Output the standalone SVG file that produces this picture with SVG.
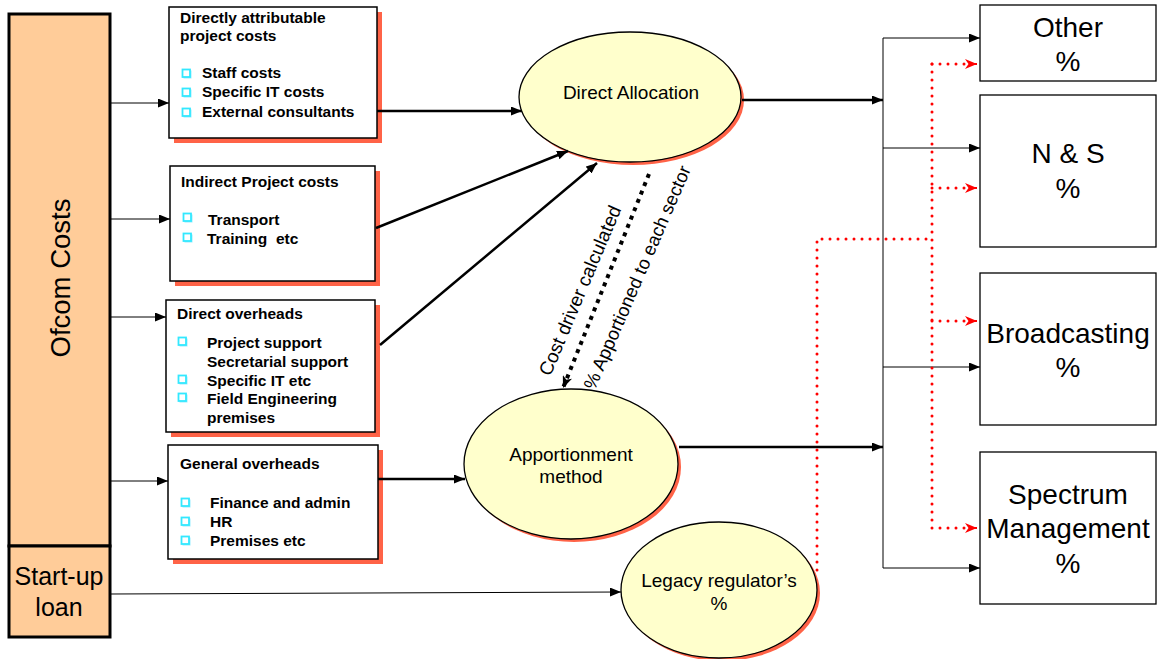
<svg xmlns="http://www.w3.org/2000/svg" xmlns:xlink="http://www.w3.org/1999/xlink" width="1157" height="659" viewBox="0 0 1157 659">
<style>
.ofc{fill:#FFCC99;stroke:#000;stroke-width:3}
.box{fill:#fff;stroke:#000;stroke-width:1.5}
.shd{fill:#FF6347}
.ell{fill:#FFFFCC;stroke:#000;stroke-width:1.3}
.rbox{fill:#fff;stroke:#000;stroke-width:1.3}
.t{font-family:"Liberation Sans",Arial,sans-serif;fill:#000}
.b{font-weight:bold;font-size:15.5px}
.e{font-size:19px;text-anchor:middle}
.big{font-size:28px;text-anchor:middle}
.thin{fill:none;stroke:#000;stroke-width:1}
.thick{fill:none;stroke:#000;stroke-width:2.5}
.red{fill:none;stroke:#FF0000;stroke-width:3;stroke-linecap:round;stroke-dasharray:0 8}
</style>
<defs>
<marker id="ah" markerUnits="userSpaceOnUse" markerWidth="11" markerHeight="9" refX="11" refY="4.5" orient="auto"><path d="M0,0 L11,4.5 L0,9 z" fill="#000"/></marker>
<marker id="ahs" markerUnits="userSpaceOnUse" markerWidth="12" markerHeight="10" refX="12" refY="5" orient="auto"><path d="M0,0 L12,5 L0,10 L3,5 z" fill="#000"/></marker>
<marker id="rh" markerUnits="userSpaceOnUse" markerWidth="12" markerHeight="10" refX="12" refY="5" orient="auto"><path d="M0,0 L12,5 L0,10 L3.5,5 z" fill="#FF0000"/></marker>
<g id="bul"><rect x="1.5" y="1.5" width="8" height="8" fill="#99EEFF"/><rect x="0.5" y="0.5" width="7.5" height="7.5" fill="#fff" stroke="#33E8FF" stroke-width="1.8"/></g>
</defs>

<g id="ofcom-costs">
<rect class="ofc" x="9" y="14" width="101" height="532"/>
<text class="t" font-size="27.5" text-anchor="middle" transform="translate(70,278) rotate(-90)">Ofcom Costs</text>
</g>
<g id="startup-loan">
<rect class="ofc" x="9" y="546" width="101" height="91"/>
<text class="t" font-size="25" text-anchor="middle" x="59" y="585">Start-up</text>
<text class="t" font-size="25" text-anchor="middle" x="59" y="616">loan</text>
</g>

<g id="box-direct">
<rect class="shd" x="174" y="12" width="208" height="131"/>
<rect class="box" x="169" y="7" width="208" height="131"/>
<text class="t b" x="180" y="23">Directly attributable</text>
<text class="t b" x="180" y="41">project costs</text>
<use xlink:href="#bul" x="182" y="69"/><use xlink:href="#bul" x="182" y="88"/><use xlink:href="#bul" x="182" y="108"/>
<text class="t b" x="202" y="78">Staff costs</text>
<text class="t b" x="202" y="97">Specific IT costs</text>
<text class="t b" x="202" y="117">External consultants</text>
</g>

<g id="box-indirect">
<rect class="shd" x="175" y="171" width="205" height="115"/>
<rect class="box" x="170" y="166" width="205" height="115"/>
<text class="t b" x="181" y="187">Indirect Project costs</text>
<use xlink:href="#bul" x="183" y="213"/><use xlink:href="#bul" x="183" y="233"/>
<text class="t b" x="208" y="225">Transport</text>
<text class="t b" x="207" y="244" style="white-space:pre">Training  etc</text>
</g>

<g id="box-overheads">
<rect class="shd" x="171" y="305" width="209" height="132"/>
<rect class="box" x="166" y="300" width="209" height="132"/>
<text class="t b" x="177" y="319">Direct overheads</text>
<use xlink:href="#bul" x="178" y="337"/><use xlink:href="#bul" x="178" y="375"/><use xlink:href="#bul" x="178" y="393"/>
<text class="t b" x="207" y="348">Project support</text>
<text class="t b" x="207" y="367">Secretarial support</text>
<text class="t b" x="207" y="386">Specific IT etc</text>
<text class="t b" x="207" y="404">Field Engineering</text>
<text class="t b" x="207" y="423">premises</text>
</g>

<g id="box-general">
<rect class="shd" x="173" y="450" width="210" height="114"/>
<rect class="box" x="168" y="445" width="210" height="114"/>
<text class="t b" x="180" y="469">General overheads</text>
<use xlink:href="#bul" x="181" y="498"/><use xlink:href="#bul" x="181" y="517"/><use xlink:href="#bul" x="181" y="536"/>
<text class="t b" x="210" y="508">Finance and admin</text>
<text class="t b" x="210" y="527">HR</text>
<text class="t b" x="210" y="546">Premises etc</text>
</g>

<g id="direct-allocation">
<ellipse class="shd" cx="633" cy="100" rx="111" ry="65"/>
<ellipse class="ell" cx="630" cy="97" rx="111" ry="65"/>
<text class="t e" x="631" y="99">Direct Allocation</text>
</g>

<g id="apportionment">
<ellipse class="shd" cx="574" cy="467" rx="107" ry="75"/>
<ellipse class="ell" cx="571" cy="464" rx="107" ry="75"/>
<text class="t e" x="571" y="461">Apportionment</text>
<text class="t e" x="571" y="483">method</text>
</g>

<g id="legacy">
<ellipse class="shd" cx="722" cy="593" rx="98" ry="68"/>
<ellipse class="ell" cx="719" cy="590" rx="98" ry="68"/>
<text class="t e" x="719" y="587">Legacy regulator’s</text>
<text class="t e" x="719" y="610">%</text>
</g>

<g id="other"><rect class="rbox" x="980" y="5" width="176" height="76"/>
<text class="t big" x="1068" y="37">Other</text><text class="t big" x="1068" y="71">%</text></g>
<g id="ns"><rect class="rbox" x="980" y="95" width="176" height="152"/>
<text class="t big" x="1068" y="163">N &amp; S</text><text class="t big" x="1068" y="198">%</text></g>
<g id="broadcasting"><rect class="rbox" x="980" y="273" width="176" height="152"/>
<text class="t big" x="1068" y="343">Broadcasting</text><text class="t big" x="1068" y="377">%</text></g>
<g id="spectrum"><rect class="rbox" x="980" y="452" width="176" height="152"/>
<text class="t big" x="1068" y="504">Spectrum</text><text class="t big" x="1068" y="538">Management</text><text class="t big" x="1068" y="573">%</text></g>

<g id="connectors">
<path class="thin" d="M110,103 H169" marker-end="url(#ah)"/>
<path class="thin" d="M110,219 H170" marker-end="url(#ah)"/>
<path class="thin" d="M110,317 H166" marker-end="url(#ah)"/>
<path class="thin" d="M110,481 H168" marker-end="url(#ah)"/>
<path class="thin" d="M110,594 L621,592" marker-end="url(#ah)"/>
<path class="thick" d="M377,111 H522" marker-end="url(#ah)"/>
<path class="thick" d="M376,228 L568,151" marker-end="url(#ah)"/>
<path class="thick" d="M380,345 L597,163" marker-end="url(#ah)"/>
<path class="thick" d="M378,479 H465" marker-end="url(#ah)"/>
<path d="M649,174 L563,388" fill="none" stroke="#000" stroke-width="4" stroke-dasharray="4 5" marker-end="url(#ahs)"/>
<text class="t" font-size="19" text-anchor="middle" transform="translate(586,293) rotate(-67)">Cost driver calculated</text>
<text class="t" font-size="18.5" text-anchor="middle" transform="translate(643,280) rotate(-66.5)">% Apportioned to each sector</text>
<path class="thick" d="M742,100 H883" marker-end="url(#ah)"/>
<path class="thick" d="M679,447 H883" marker-end="url(#ah)"/>
<path class="thin" d="M883,38 V568"/>
<path class="thin" d="M883,38 H980" marker-end="url(#ah)"/>
<path class="thin" d="M883,148 H980" marker-end="url(#ah)"/>
<path class="thin" d="M883,367 H980" marker-end="url(#ah)"/>
<path class="thin" d="M883,568 H980" marker-end="url(#ah)"/>
<path class="red" d="M817,570 V239 H932"/>
<path class="red" d="M932,64 V528"/>
<path class="red" d="M932,64 H972"/><path d="M972,64 H977" stroke="red" stroke-width="2" marker-end="url(#rh)"/>
<path class="red" d="M932,188 H972"/><path d="M972,188 H977" stroke="red" stroke-width="2" marker-end="url(#rh)"/>
<path class="red" d="M932,321 H972"/><path d="M972,321 H977" stroke="red" stroke-width="2" marker-end="url(#rh)"/>
<path class="red" d="M932,528 H972"/><path d="M972,528 H977" stroke="red" stroke-width="2" marker-end="url(#rh)"/>
</g>
</svg>
